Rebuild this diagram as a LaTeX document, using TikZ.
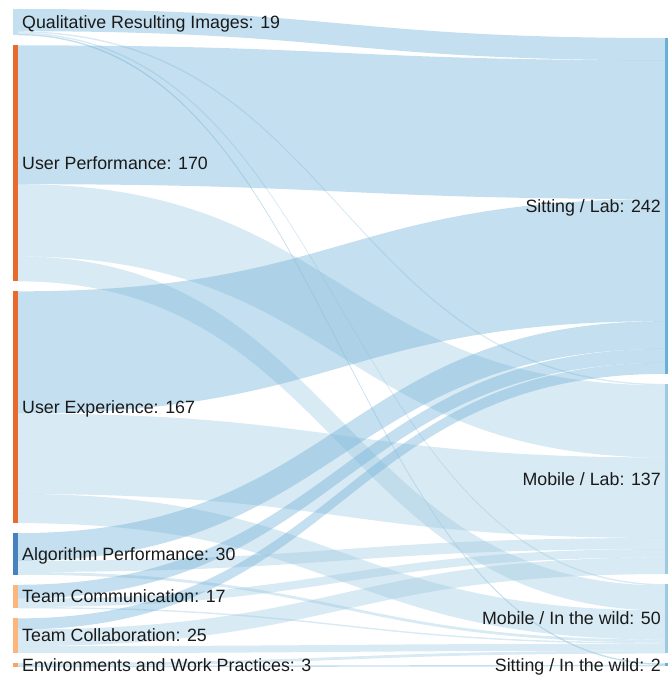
\documentclass[tikz,border=0pt]{standalone}
\usepackage{fontspec}
\setmainfont{Liberation Sans}
\usetikzlibrary{calc}
\pgfdeclarelayer{bg}
\pgfsetlayers{bg,main}
\definecolor{corange}{HTML}{E86A2C}
\definecolor{cblue}{HTML}{4682BE}
\definecolor{clight}{HTML}{FDB57C}
\definecolor{cewp}{HTML}{FDA363}
\definecolor{cqri}{HTML}{C4DFEF}
\definecolor{csl}{HTML}{6BAED6}
\definecolor{cml}{HTML}{9ECAE1}
\definecolor{cmw}{HTML}{9ECAE1}
\definecolor{csw}{HTML}{6BAED6}
\definecolor{ctext}{HTML}{1A1A1A}
\newcommand\kk{1.388}
% source node, source offset, target node, target offset, value, colour
\newcommand\sklink[6]{%
\path[fill=#6, fill opacity=.4] let \p1=(#1.north east), \p2=(#3.north west),
 \n1={\x1}, \n2={\x2}, \n3={(\x1+\x2)/2}, \n4={\y1-#2*\kk*1pt}, \n5={\y2-#4*\kk*1pt}, \n6={#5*\kk*1pt} in
 (\n1,\n4) .. controls (\n3,\n4) and (\n3,\n5) .. (\n2,\n5) -- (\n2,\n5-\n6) .. controls (\n3,\n5-\n6) and (\n3,\n4-\n6) .. (\n1,\n4-\n6) -- cycle;}
\begin{document}
\begin{tikzpicture}[x=1pt,y=1pt,
  lbar/.style={rectangle, inner sep=0pt, outer sep=0pt, draw=none, minimum width=5pt, anchor=north west},
  rbar/.style={rectangle, inner sep=0pt, outer sep=0pt, draw=none, minimum width=3pt, anchor=north west},
  lab/.style={font=\fontsize{17.8}{20}\selectfont, inner sep=0pt, text=ctext}]
\useasboundingbox (0,0) rectangle (668,-679);
% left nodes
\node[lbar, fill=cqri, minimum height={19*\kk*1pt}] (qri) at (13,-9) {};
\node[lbar, fill=corange, minimum height={170*\kk*1pt}] (up) at (13,-45.37) {};
\node[lbar, fill=corange, minimum height={167*\kk*1pt}] (ue) at (13,-291.33) {};
\node[lbar, fill=cblue, minimum height={30*\kk*1pt}] (ap) at (13,-533.13) {};
\node[lbar, fill=clight, minimum height={17*\kk*1pt}] (tcm) at (13,-584.77) {};
\node[lbar, fill=clight, minimum height={25*\kk*1pt}] (tcl) at (13,-618.37) {};
\node[lbar, fill=cewp, minimum height={3*\kk*1pt}] (ewp) at (13,-663.07) {};
% right nodes
\node[rbar, fill=csl, minimum height={242*\kk*1pt}] (sl) at (665,-38) {};
\node[rbar, fill=cml, minimum height={137*\kk*1pt}] (ml) at (665,-383.9) {};
\node[rbar, fill=cmw, minimum height={50*\kk*1pt}] (mw) at (665,-584.06) {};
\node[rbar, fill=csw, minimum height={2*\kk*1pt}] (sw) at (665,-663.46) {};
% links
\begin{pgfonlayer}{bg}
\sklink{qri}{0}{sl}{0}{16}{csl}
\sklink{qri}{16}{ml}{0}{1}{cml}
\sklink{qri}{17}{mw}{0}{1}{cmw}
\sklink{qri}{18}{sw}{0}{1}{csw}
\sklink{up}{0}{sl}{16}{100}{csl}
\sklink{up}{100}{ml}{1}{52}{cml}
\sklink{up}{152}{mw}{1}{18}{cmw}
\sklink{ue}{0}{sl}{116}{88}{csl}
\sklink{ue}{88}{ml}{53}{58}{cml}
\sklink{ue}{146}{mw}{19}{21}{cmw}
\sklink{ap}{0}{sl}{204}{20}{csl}
\sklink{ap}{20}{ml}{111}{8}{cml}
\sklink{ap}{28}{mw}{40}{2}{cmw}
\sklink{tcm}{0}{sl}{224}{10}{csl}
\sklink{tcm}{10}{ml}{119}{6}{cml}
\sklink{tcm}{16}{mw}{42}{1}{cmw}
\sklink{tcl}{0}{sl}{234}{8}{csl}
\sklink{tcl}{8}{ml}{125}{12}{cml}
\sklink{tcl}{20}{mw}{43}{5}{cmw}
\sklink{ewp}{0}{mw}{48}{2}{cmw}
\sklink{ewp}{2}{sw}{1}{1}{csw}
\end{pgfonlayer}
% labels
\node[lab, anchor=base west] (qril) at ($(qri.east)+(4,-6.2)$) {Qualitative Resulting Images: 19};
\node[lab, anchor=base west] (upl) at ($(up.east)+(4,-6.2)$) {User Performance: 170};
\node[lab, anchor=base west] (uel) at ($(ue.east)+(4,-6.2)$) {User Experience: 167};
\node[lab, anchor=base west] (apl) at ($(ap.east)+(4,-6.2)$) {Algorithm Performance: 30};
\node[lab, anchor=base west] (tcml) at ($(tcm.east)+(4,-6.2)$) {Team Communication: 17};
\node[lab, anchor=base west] (tcll) at ($(tcl.east)+(4,-6.2)$) {Team Collaboration: 25};
\node[lab, anchor=base west] (ewpl) at ($(ewp.east)+(4,-6.2)$) {Environments and Work Practices: 3};
\node[lab, anchor=base east] (sll) at ($(sl.west)+(-4,-6.2)$) {Sitting / Lab: 242};
\node[lab, anchor=base east] (mll) at ($(ml.west)+(-4,-6.2)$) {Mobile / Lab: 137};
\node[lab, anchor=base east] (mwl) at ($(mw.west)+(-4,-6.2)$) {Mobile / In the wild: 50};
\node[lab, anchor=base east] (swl) at ($(sw.west)+(-4,-6.2)$) {Sitting / In the wild: 2};
\end{tikzpicture}
\end{document}
